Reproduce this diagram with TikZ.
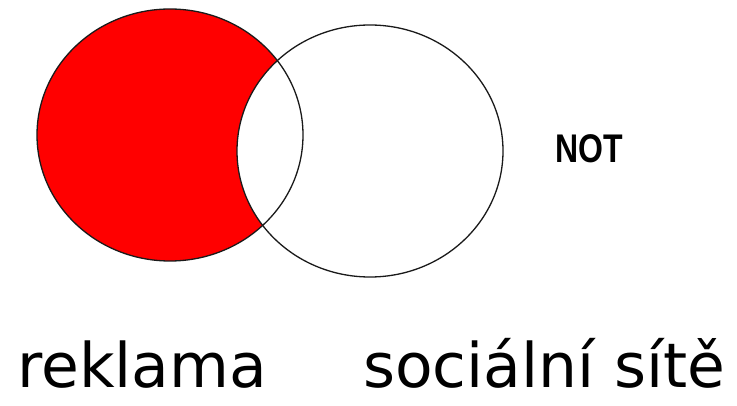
\documentclass[tikz,border=0pt]{standalone}
\usepackage{fontspec}
\setmainfont{DejaVu Sans}
\newfontfamily\labelfont{DejaVu Sans}
\newfontfamily\opfont{Liberation Sans}
\usepackage{xcolor}
\usepackage{tikz}
\usetikzlibrary{positioning}
\definecolor{vennred}{HTML}{FF0000}
\definecolor{rim}{HTML}{1A1A1A}
\tikzset{
  setname/.style={anchor=base west,inner sep=0pt,font=\labelfont\fontsize{61.5}{62}\selectfont},
  opname/.style={anchor=base west,inner sep=0pt,font=\opfont\bfseries\fontsize{40}{40}\selectfont},
  rimline/.style={draw=rim,line width=1.3pt}
}
\begin{document}
\begin{tikzpicture}[x=1pt,y=-1pt]
\useasboundingbox[fill=white] (0,0) rectangle (737,406);
\fill[vennred] (170,135) ellipse [x radius=133,y radius=126];
\fill[white] (370,151) ellipse [x radius=133,y radius=126];
\draw[rimline] (170,135) ellipse [x radius=133,y radius=126];
\draw[rimline] (370,151) ellipse [x radius=133,y radius=126];
\node[opname] (op) at (555,163) {\scalebox{0.8}[1]{NOT}};
\node[setname] (ads) at (17,388) {reklama};
\node[setname] (social) at (363,388) {sociální sítě};
\end{tikzpicture}
\end{document}
